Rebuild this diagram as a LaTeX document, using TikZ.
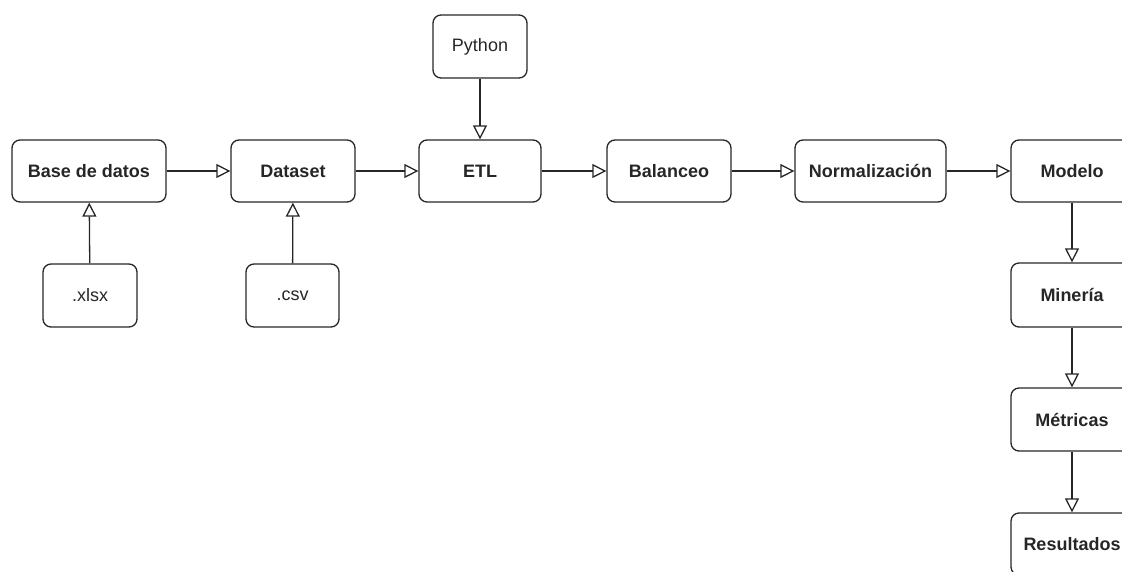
\documentclass[tikz,border=0pt]{standalone}
\usepackage{fontspec}
\setmainfont{Liberation Sans}
\usetikzlibrary{arrows.meta}
\begin{document}
\begin{tikzpicture}[x=1pt,y=-1pt,line width=1.3pt,
	box/.style={draw=black!85,rounded corners=8pt,inner sep=0,minimum height=62pt,text=black!85,
		font=\fontsize{18}{20}\selectfont\bfseries},
	src/.style={box,minimum width=94pt,minimum height=63pt,font=\fontsize{18}{20}\selectfont},
	flow/.style={draw=black!85,-{Triangle[open,length=14pt,width=14pt,line width=1.3pt]}}]
	\useasboundingbox (0,0) rectangle (1122,571);
	\node[box,minimum width=154pt] (bd) at (89,171) {Base de datos};
	\node[box,minimum width=124pt] (ds) at (293,171) {Dataset};
	\node[box,minimum width=122pt] (etl) at (480,171) {ETL};
	\node[box,minimum width=124pt] (bal) at (669,171) {Balanceo};
	\node[box,minimum width=151pt] (norm) at (870.5,171) {Normalización};
	\node[box,minimum width=122pt] (mod) at (1072,171) {Modelo};
	\node[box,minimum width=122pt,minimum height=64pt] (min) at (1072,295) {Minería};
	\node[box,minimum width=122pt,minimum height=63pt] (met) at (1072,419.5) {Métricas};
	\node[box,minimum width=122pt] (res) at (1072,544) {Resultados};
	\node[src] (py) at (480,46.5) {Python};
	\node[src] (xlsx) at (90,295.5) {.xlsx};
	\node[src,minimum width=93pt] (csv) at (292.5,295.5) {.csv};
	\draw[flow] (bd) -- (ds);
	\draw[flow] (ds) -- (etl);
	\draw[flow] (etl) -- (bal);
	\draw[flow] (bal) -- (norm);
	\draw[flow] (norm) -- (mod);
	\draw[flow] (py) -- (etl);
	\draw[flow] (xlsx) -- (bd);
	\draw[flow] (csv) -- (ds);
	\draw[flow] (mod) -- (min);
	\draw[flow] (min) -- (met);
	\draw[flow] (met) -- (res);
\end{tikzpicture}
\end{document}
